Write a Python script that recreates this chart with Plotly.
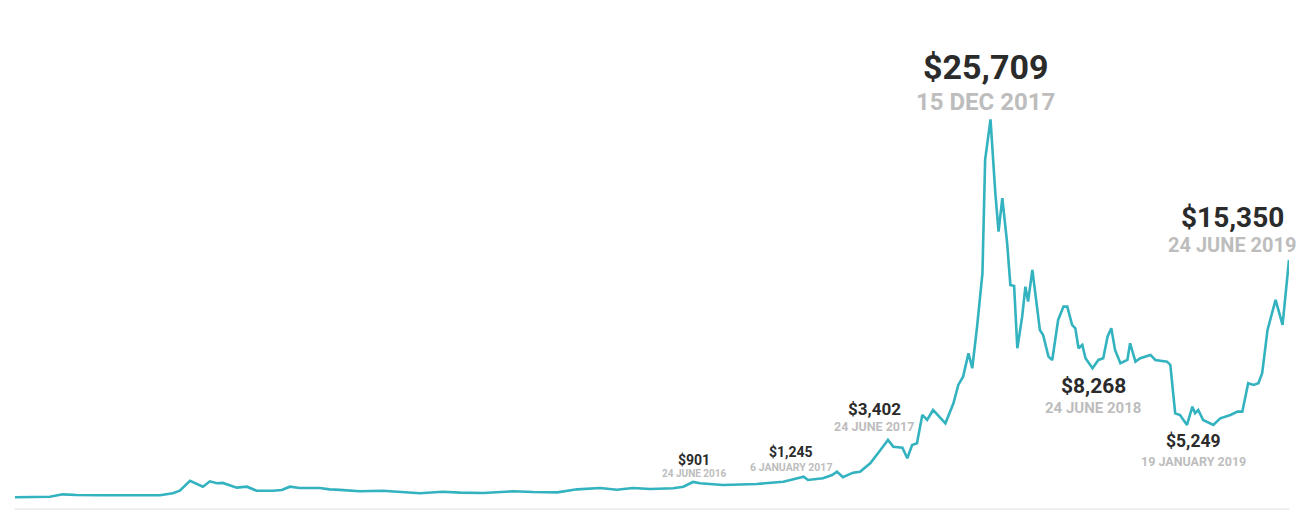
import plotly.graph_objects as go

# Bitcoin price (AUD)
dates = [
    "2012-12-24", "2013-02-27", "2013-03-23", "2013-04-18", "2013-05-31", "2013-08-01",
    "2013-09-20", "2013-10-14", "2013-10-27", "2013-11-15", "2013-12-09", "2013-12-22",
    "2014-01-04", "2014-01-15", "2014-01-28", "2014-02-10", "2014-03-01", "2014-03-19",
    "2014-04-18", "2014-05-05", "2014-05-20", "2014-06-07", "2014-07-15", "2014-08-02",
    "2014-08-21", "2014-09-08", "2014-09-27", "2014-11-09", "2014-12-11", "2015-01-17",
    "2015-03-01", "2015-04-02", "2015-05-15", "2015-07-10", "2015-08-16", "2015-09-30",
    "2015-11-06", "2015-12-19", "2016-01-19", "2016-02-18", "2016-03-21", "2016-05-03",
    "2016-05-22", "2016-06-09", "2016-06-22", "2016-08-04", "2016-10-06", "2016-11-24",
    "2016-12-13", "2017-01-01", "2017-01-09", "2017-02-06", "2017-02-23", "2017-03-04",
    "2017-03-15", "2017-04-03", "2017-04-16", "2017-05-05", "2017-05-24", "2017-06-07",
    "2017-06-17", "2017-07-04", "2017-07-13", "2017-07-22", "2017-07-31", "2017-08-05",
    "2017-08-10", "2017-08-19", "2017-08-30", "2017-09-22", "2017-10-07", "2017-10-16",
    "2017-10-25", "2017-11-04", "2017-11-11", "2017-11-20", "2017-11-30", "2017-12-05",
    "2017-12-15", "2017-12-24", "2017-12-30", "2018-01-06", "2018-01-15", "2018-01-21",
    "2018-01-28", "2018-02-03", "2018-02-12", "2018-02-18", "2018-02-23", "2018-03-03",
    "2018-03-12", "2018-03-17", "2018-03-23", "2018-04-02", "2018-04-09", "2018-04-20",
    "2018-04-30", "2018-05-07", "2018-05-16", "2018-05-22", "2018-05-28", "2018-06-04",
    "2018-06-10", "2018-06-23", "2018-07-04", "2018-07-13", "2018-07-21", "2018-07-28",
    "2018-08-04", "2018-08-14", "2018-08-27", "2018-09-01", "2018-09-11", "2018-09-20",
    "2018-10-09", "2018-10-18", "2018-11-09", "2018-11-15", "2018-11-24", "2018-12-03",
    "2018-12-16", "2018-12-26", "2018-12-31", "2019-01-06", "2019-01-15", "2019-02-03",
    "2019-02-16", "2019-03-07", "2019-03-20", "2019-03-29", "2019-04-09", "2019-04-19",
    "2019-04-28", "2019-05-05", "2019-05-15", "2019-05-30", "2019-06-12", "2019-06-24",
]

prices_aud = [
    15, 55, 215, 170, 150, 150,
    150, 285, 460, 1140, 735, 1100,
    965, 990, 850, 670, 735, 460,
    460, 510, 735, 645, 645, 555,
    520, 460, 420, 460, 395, 285,
    395, 330, 310, 420, 370, 350,
    555, 645, 530, 645, 580, 630,
    735, 1055, 965, 850, 920, 1075,
    1240, 1415, 1190, 1305, 1530, 1755,
    1375, 1690, 1755, 2325, 3230, 3910,
    3455, 3390, 2665, 3570, 3685, 4800,
    5610, 5270, 5950, 5045, 6405, 7650,
    8215, 9805, 8785, 11615, 15245, 22950,
    25709, 20685, 18075, 20345, 17285, 14450,
    14380, 10145, 12295, 14335, 13315, 15470,
    12750, 11390, 11050, 9575, 9350, 12070,
    12975, 12975, 11730, 11505, 10145, 10370,
    9465, 8785, 9350, 9465, 10935, 11505,
    10030, 9125, 9350, 10485, 9235, 9465,
    9690, 9350, 9235, 9010, 5725, 5610,
    4930, 6175, 5725, 5950, 5270, 4930,
    5385, 5610, 5835, 5835, 7765, 7650,
    7765, 8445, 11390, 13430, 11730, 16150,
]

# Labelled milestones
label_values = ["$901", "$1,245", "$3,402", "$25,709", "$8,268", "$5,249", "$15,350"]
label_dates = ["24 JUNE 2016", "6 JANUARY 2017", "24 JUNE 2017", "15 DEC 2017",
               "24 JUNE 2018", "19 JANUARY 2019", "24 JUNE 2019"]

# layout for labels: (center x px, value center y px, date center y px, value font, date font)
label_layout = [
    (694, 460, 473, 14, 10),
    (791, 452, 467, 14, 10.5),
    (874, 409, 426, 17, 12.5),
    (985, 67, 102, 34, 24),
    (1093, 386, 408, 21, 15),
    (1193, 441, 462, 17.5, 12.5),
    (1232, 217, 245, 28, 20),
]

W, H = 1300, 520
ML, MR, MT, MB = 15, 11, 0, 12

fig = go.Figure()
fig.add_trace(go.Scatter(
    x=dates, y=prices_aud, mode="lines",
    line=dict(color="#33b2bf", width=2.6),
    hoverinfo="skip",
))


def px_x(px):
    return (px - ML) / (W - ML - MR)


def px_y(py):
    return (H - MB - py) / (H - MT - MB)


for (v, d, (cx, vy, dy, vf, df)) in zip(label_values, label_dates, label_layout):
    fig.add_annotation(
        text=f"<b>{v}</b>", xref="paper", yref="paper",
        x=px_x(cx), y=px_y(vy), xanchor="center", yanchor="middle",
        showarrow=False, font=dict(family="Roboto", size=vf, color="#2b2b2b"),
    )
    fig.add_annotation(
        text=f"<b>{d}</b>", xref="paper", yref="paper",
        x=px_x(cx), y=px_y(dy), xanchor="center", yanchor="middle",
        showarrow=False, font=dict(family="Roboto", size=df, color="#bdbdbd"),
    )

fig.update_layout(
    width=W, height=H,
    margin=dict(l=ML, r=MR, t=MT, b=MB, pad=0),
    paper_bgcolor="white", plot_bgcolor="white",
    showlegend=False,
    xaxis=dict(range=["2012-12-24", "2019-06-24"], showgrid=False, zeroline=False,
               showticklabels=False, ticks="", showline=True, linecolor="#eeeeee",
               linewidth=2),
    yaxis=dict(range=[-714, 33820], showgrid=False, zeroline=False,
               showticklabels=False, ticks="", showline=False),
)

fig.write_html(
    "out.html",
    config={"displayModeBar": False},
    post_script="document.body.style.margin='0';document.body.style.overflow='hidden';",
)
